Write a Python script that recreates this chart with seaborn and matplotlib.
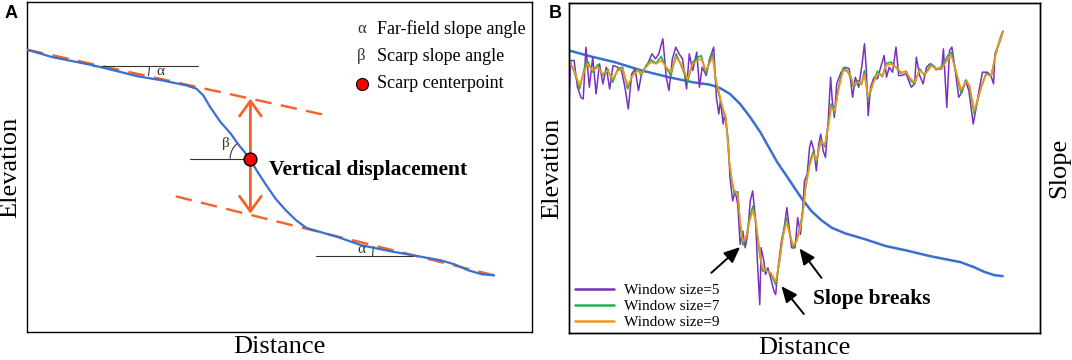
import numpy as np
import pandas as pd
import seaborn as sns
import matplotlib.pyplot as plt
from matplotlib.patches import Arc

# ---- panel A: schematic scarp profile (arbitrary distance / elevation units)
prof_dist = [78, 150, 270, 330, 400, 470, 540, 570, 590, 610, 640, 670, 690, 710, 725, 745,
             770, 800, 830, 860, 890, 920, 980, 1050, 1130, 1200, 1280, 1320, 1360, 1400, 1435]
prof_elev = [852, 830, 805, 790, 772, 760, 745, 735, 715, 680, 635, 600, 570, 545, 525, 490,
             450, 405, 370, 340, 317, 308, 290, 265, 248, 235, 220, 208, 190, 178, 175]
upper_fit_dist = [78, 935]
upper_fit_elev = [852, 658]
lower_fit_dist = [510, 1435]
lower_fit_elev = [412, 175]
ref_upper_dist = [270, 575]
ref_upper_elev = [803, 803]
ref_mid_dist = [552, 725]
ref_mid_elev = [525, 525]
ref_lower_dist = [918, 1200]
ref_lower_elev = [232, 232]
center_dist = [725]
center_elev = [525]
disp_top, disp_bottom = 705, 360

# ---- panel B: elevation profile and slope for three window sizes
elev_dist = [85, 150, 220, 300, 380, 450, 500, 530, 560, 590, 620, 650, 675, 700, 725, 750,
             770, 800, 830, 860, 900, 960, 1020, 1080, 1150, 1200, 1240, 1280, 1310, 1340, 1365]
elev_vals = [850, 832, 815, 790, 770, 755, 748, 738, 720, 690, 650, 605, 560, 515, 478, 440,
             410, 370, 342, 320, 303, 285, 265, 252, 235, 225, 217, 202, 188, 178, 175]

w9_dist = [86, 101, 116, 131, 140, 155, 170, 184, 199, 214, 229, 243, 258, 273, 288, 298,
           312, 327, 342, 357, 372, 386, 401, 416, 435, 450, 465, 475, 489, 499, 509, 519,
           529, 538, 548, 553, 558, 566, 573, 583, 590, 598, 608, 618, 628, 637, 647, 656,
           668, 681, 695, 705, 716, 727, 737, 747, 757, 766, 775, 783, 796, 806, 815, 828,
           840, 850, 859, 869, 880, 894, 905, 915, 925, 938, 948, 957, 968, 984, 995, 1010,
           1021, 1036, 1051, 1065, 1080, 1093, 1105, 1120, 1134, 1145, 1154, 1169, 1188, 1203,
           1213, 1227, 1242, 1257, 1267, 1281, 1301, 1316, 1331, 1345, 1360, 1366]
w9_slope = [815, 790, 745, 790, 810, 790, 800, 780, 790, 765, 790, 795, 745, 775, 790, 780,
            800, 815, 810, 820, 800, 785, 830, 810, 765, 810, 820, 825, 790, 810, 830, 760,
            720, 680, 650, 590, 520, 460, 430, 420, 340, 280, 290, 340, 372, 335, 255, 200,
            190, 185, 158, 215, 290, 338, 300, 265, 280, 312, 360, 440, 510, 540, 522, 578,
            568, 620, 680, 670, 730, 790, 788, 778, 748, 755, 750, 778, 712, 755, 780, 775,
            805, 810, 800, 785, 785, 765, 755, 790, 778, 790, 805, 795, 800, 825,
            835, 790, 732, 758, 745, 670, 738, 778, 775, 840, 890, 905]
w7_slope = [822, 785, 735, 800, 818, 785, 808, 775, 795, 755, 795, 800, 735, 778, 795, 775,
            805, 822, 812, 832, 798, 775, 840, 805, 755, 815, 828, 835, 782, 815, 842, 752,
            712, 678, 640, 585, 515, 458, 422, 428, 330, 268, 292, 350, 385, 330, 245, 190,
            195, 180, 150, 210, 295, 350, 298, 258, 285, 318, 368, 440, 518, 548, 515, 585,
            562, 628, 690, 662, 738, 798, 790, 772, 740, 760, 748, 790, 702, 758, 788, 772,
            812, 815, 798, 782, 788, 760, 750, 795, 775, 795, 810, 792, 805, 835,
            845, 785, 722, 762, 740, 660, 740, 782, 772, 845, 895, 908]
w5_dist = [85, 90, 100, 110, 120, 127, 135, 145, 155, 165, 175, 185, 195, 205, 215, 228,
           240, 250, 260, 270, 280, 290, 300, 315, 330, 340, 350, 362, 372, 380, 390, 400,
           410, 420, 432, 440, 450, 462, 470, 478, 490, 500, 512, 520, 527, 532, 540, 545,
           555, 560, 568, 575, 583, 590, 598, 605, 612, 620, 627, 635, 642, 648, 652, 660,
           665, 672, 680, 690, 695, 702, 712, 720, 728, 735, 742, 752, 760, 768, 775, 780,
           788, 795, 800, 808, 815, 822, 828, 835, 842, 850, 857, 862, 868, 875, 888, 900,
           912, 922, 930, 940, 950, 957, 962, 968, 975, 985, 995, 1005, 1015, 1022, 1030, 1040,
           1050, 1058, 1065, 1080, 1095, 1105, 1110, 1120, 1130, 1140, 1150, 1160, 1170, 1185,
           1190, 1200, 1208, 1215, 1225, 1235, 1245, 1255, 1265, 1278, 1285, 1295, 1305, 1320,
           1330, 1338, 1342, 1350, 1358, 1365]
w5_slope = [690, 820, 820, 740, 710, 705, 860, 740, 830, 720, 810, 750, 800, 735, 805, 800,
            790, 740, 675, 780, 795, 730, 785, 805, 840, 825, 840, 885, 770, 730, 825, 860,
            840, 825, 735, 840, 790, 845, 740, 800, 775, 825, 860, 710, 660, 700, 630, 660,
            580, 470, 400, 430, 390, 270, 310, 260, 300, 400, 430, 350, 200, 90, 260, 220,
            180, 200, 170, 130, 120, 200, 280, 320, 380, 320, 260, 260, 350, 300, 380, 460,
            480, 560, 580, 550, 490, 570, 600, 550, 530, 640, 770, 700, 650, 750, 785, 800,
            795, 710, 770, 740, 810, 870, 800, 655, 740, 770, 765, 800, 835, 770, 800, 785,
            860, 775, 775, 780, 740, 750, 830, 775, 750, 800, 810, 805, 795, 795,
            855, 680, 850, 860, 790, 710, 725, 760, 730, 630, 670, 730, 785, 785,
            775, 750, 840, 860, 880, 905]
window_labels = ['Window size=5', 'Window size=7', 'Window size=9']
window_colors = ['#7b2fbf', '#22b04b', '#f7931e']

blue = '#3a6fd0'
red_orange = '#f4622a'

sns.set_theme(style='white')
plt.rcParams['font.family'] = ['Liberation Serif', 'DejaVu Serif']
plt.rcParams['text.color'] = 'black'
plt.rcParams['axes.labelcolor'] = 'black'

fig = plt.figure(figsize=(10.72, 3.6), dpi=100)
ax_a = fig.add_axes([27 / 1072, 28 / 360, 505 / 1072, 330 / 360])
ax_b = fig.add_axes([569 / 1072, 27 / 360, 471 / 1072, 330 / 360])

# ---------------- panel A
sns.lineplot(x=upper_fit_dist, y=upper_fit_elev, ax=ax_a, color=red_orange, lw=1.7,
             linestyle=(0, (7, 4)), zorder=2)
sns.lineplot(x=lower_fit_dist, y=lower_fit_elev, ax=ax_a, color=red_orange, lw=1.7,
             linestyle=(0, (7, 4)), zorder=2)
sns.lineplot(x=prof_dist, y=prof_elev, ax=ax_a, color=blue, lw=1.6, zorder=3)
for xs, ys in [(ref_upper_dist, ref_upper_elev), (ref_mid_dist, ref_mid_elev),
               (ref_lower_dist, ref_lower_elev)]:
    sns.lineplot(x=xs, y=ys, ax=ax_a, color='#333333', lw=0.8, zorder=2)

ax_a.add_patch(Arc((294, 803), 279, 288, theta1=-12.4, theta2=0, color='#333333', lw=0.8))
ax_a.add_patch(Arc((1212, 232), 260, 269, theta1=166.1, theta2=180, color='#333333', lw=0.8))
ax_a.add_patch(Arc((725, 525), 114, 118, theta1=125, theta2=180, color='#333333', lw=0.8))
ax_a.text(465, 787, 'α', fontsize=11, ha='center', va='center', color='#333333')
ax_a.text(1050, 252, 'α', fontsize=11, ha='center', va='center', color='#333333')
ax_a.text(655, 570, 'β', fontsize=11, ha='center', va='center', color='#333333')

ax_a.annotate('', xy=(727, disp_top), xytext=(727, disp_bottom),
              arrowprops=dict(arrowstyle='<->,head_length=0.9,head_width=0.65',
                              color=red_orange, lw=2, shrinkA=0, shrinkB=0), zorder=4)
sns.scatterplot(x=center_dist, y=center_elev, ax=ax_a, s=85, color='#ff0000',
                edgecolor='black', linewidth=1, zorder=5)
ax_a.text(780, 492, 'Vertical displacement', fontsize=15.5, fontweight='bold',
          ha='left', va='center')

ax_a.text(1050, 915, 'α', fontsize=12, ha='center', va='center', color='#333333')
ax_a.text(1095, 915, 'Far-field slope angle', fontsize=13, ha='left', va='center')
ax_a.text(1050, 833, 'β', fontsize=12, ha='center', va='center', color='#333333')
ax_a.text(1095, 833, 'Scarp slope angle', fontsize=13, ha='left', va='center')
sns.scatterplot(x=[1050], y=[750], ax=ax_a, s=75, color='#ff0000', edgecolor='black',
                linewidth=0.8, zorder=5)
ax_a.text(1095, 750, 'Scarp centerpoint', fontsize=13, ha='left', va='center')

ax_a.set_xlim(78, 1545)
ax_a.set_ylim(5, 995)
ax_a.set_xlabel('Distance', fontsize=19, labelpad=3)
ax_a.set_ylabel('Elevation', fontsize=19, labelpad=4)

# ---------------- panel B
sns.lineplot(x=elev_dist, y=elev_vals, ax=ax_b, color=blue, lw=1.8)
ax_s = ax_b.twinx()
sns.lineplot(x=w5_dist, y=w5_slope, ax=ax_s, color=window_colors[0], lw=1.1,
             label=window_labels[0])
sns.lineplot(x=w9_dist, y=w7_slope, ax=ax_s, color=window_colors[1], lw=1.2,
             label=window_labels[1])
sns.lineplot(x=w9_dist, y=w9_slope, ax=ax_s, color=window_colors[2], lw=1.2,
             label=window_labels[2])

for tail, head in [((505, 185), (590, 262)), ((778, 62), (712, 145)), ((830, 170), (765, 258))]:
    ax_s.annotate('', xy=head, xytext=tail,
                  arrowprops=dict(arrowstyle='-|>,head_length=0.8,head_width=0.35',
                                  color='black', lw=1.4, shrinkA=0, shrinkB=0))
ax_s.text(805, 107, 'Slope breaks', fontsize=15.5, fontweight='bold', ha='left', va='center')

for ax in (ax_b, ax_s):
    ax.set_xlim(85, 1475)
    ax.set_ylim(5, 992)
ax_b.set_xlabel('Distance', fontsize=19, labelpad=3)
ax_b.set_ylabel('Elevation', fontsize=19, labelpad=4)
ax_s.set_ylabel('Slope', fontsize=19, labelpad=6)

leg = ax_s.legend(loc='lower left', bbox_to_anchor=(0.012, 0.012), frameon=False,
                  fontsize=11, handlelength=2.6, handletextpad=0.6, labelspacing=0.15,
                  borderpad=0, borderaxespad=0)
for line in leg.get_lines():
    line.set_linewidth(1.8)

for ax in (ax_a, ax_b, ax_s):
    ax.set_xticks([])
    ax.set_yticks([])
    for sp in ax.spines.values():
        sp.set_color('black')
        sp.set_linewidth(1.0)

fig.text(5 / 1072, 1 - 14 / 360, 'A', fontsize=13, fontweight='bold',
         family=['Liberation Sans', 'DejaVu Sans'], va='center', ha='left')
fig.text(549 / 1072, 1 - 14 / 360, 'B', fontsize=13, fontweight='bold',
         family=['Liberation Sans', 'DejaVu Sans'], va='center', ha='left')

fig.savefig('out.png', dpi=100)
